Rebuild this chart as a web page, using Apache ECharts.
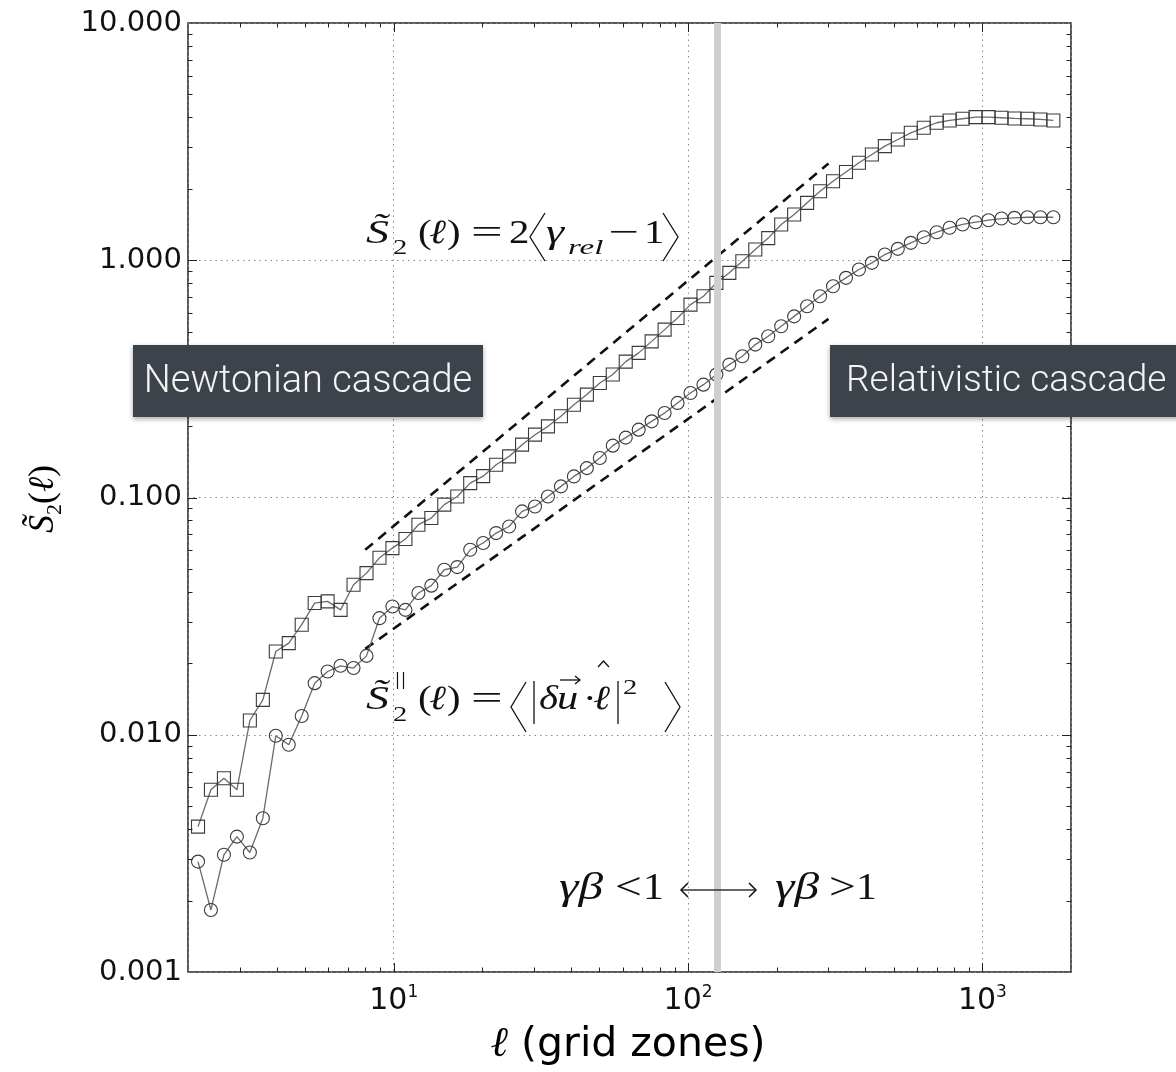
<!DOCTYPE html>
<html>
<head>
<meta charset="utf-8">
<script src="https://cdn.jsdelivr.net/npm/echarts@6/dist/echarts.min.js"></script>
<style>
html,body{margin:0;padding:0;background:#fff;}
#chart{width:1176px;height:1072px;}
</style>
</head>
<body>
<div id="chart"></div>
<script>
// ---- data ----
const lVals = [2.163,2.393,2.649,2.932,3.245,3.592,3.975,4.399,4.868,5.387,
  5.962,6.598,7.302,8.082,8.944,9.899,10.96,12.13,13.42,14.85,
  16.44,18.19,20.13,22.28,24.66,27.29,30.20,33.42,36.99,40.94,
  45.31,50.14,55.49,61.41,67.96,75.21,83.23,92.1,101.9,112.8,
  124.8,138.1,152.9,169.2,187.2,207.2,229.3,253.8,280.9,310.8,
  344.0,380.7,421.3,466.3,516.0,571.1,632.0,699.4,774.0,856.6,
  948.0,1049,1161,1285,1422,1574,1742];
const s2Total = [0.00410,0.00586,0.00656,0.00586,0.01148,0.01403,0.02244,0.02434,0.0291,0.0359,
  0.0365,0.0336,0.0429,0.0480,0.0557,0.0612,0.0668,0.0768,0.0819,0.0933,
  0.101,0.115,0.123,0.1375,0.149,0.167,0.184,0.1995,0.220,0.246,
  0.2715,0.304,0.330,0.374,0.407,0.455,0.510,0.571,0.650,0.705,
  0.803,0.885,0.990,1.11,1.24,1.415,1.558,1.746,1.954,2.154,
  2.355,2.576,2.792,3.026,3.228,3.445,3.617,3.798,3.884,3.948,
  4.010,4.010,3.987,3.960,3.948,3.922,3.884];
const s2Par = [0.00292,0.001826,0.00312,0.00372,0.00319,0.00445,0.00990,0.00907,0.0120,0.0165,
  0.01847,0.01953,0.0191,0.0215,0.0310,0.0347,0.0336,0.0396,0.0425,0.0496,
  0.0509,0.0602,0.0643,0.0708,0.0755,0.0874,0.0917,0.101,0.1114,0.1227,
  0.133,0.1468,0.1654,0.1788,0.1932,0.2094,0.2272,0.2504,0.2759,0.2990,
  0.3296,0.3633,0.3937,0.441,0.478,0.527,0.580,0.640,0.705,0.777,
  0.843,0.914,0.975,1.057,1.117,1.184,1.250,1.313,1.370,1.415,
  1.447,1.475,1.499,1.509,1.518,1.518,1.518];
const fitUpperX = [8, 300];
const fitUpperY = [0.0602, 2.557];
const fitLowerX = [8, 300];
const fitLowerY = [0.0230, 0.566];
const transitionL = 126;
const xMajorTicks = [10, 100, 1000];
const xMinorTicks = [3,4,5,6,7,8,9,20,30,40,50,60,70,80,90,200,300,400,500,600,700,800,900];
const yMajorTicks = [0.01, 0.1, 1];
const yMinorTicks = [0.002,0.003,0.004,0.005,0.006,0.007,0.008,0.009,
  0.02,0.03,0.04,0.05,0.06,0.07,0.08,0.09,
  0.2,0.3,0.4,0.5,0.6,0.7,0.8,0.9,
  2,3,4,5,6,7,8,9];

const chart = echarts.init(document.getElementById('chart'), null, {renderer:'canvas'});

const SERIF = "'Liberation Serif','DejaVu Serif',serif";
const SANS = "'DejaVu Sans',sans-serif";
const INK = '#111';

// text piece placed by its left edge and baseline
function T(txt, x, base, size, italic, sx) {
  return {type: 'text', x: x, y: base - 0.35 * size, scaleX: sx || 1, z: 50, silent: true,
    style: {text: txt, font: (italic ? 'italic ' : '') + size + 'px ' + SERIF, fill: INK,
      align: 'left', verticalAlign: 'middle'}};
}
function P(points, w) {
  return {type: 'polyline', z: 50, silent: true, shape: {points: points},
    style: {stroke: INK, lineWidth: w || 1.3, fill: null}};
}

function tickSeries(isX, majors, minors) {
  const data = majors.map(v => isX ? [v, 0.1, 9] : [10, v, 9])
    .concat(minors.map(v => isX ? [v, 0.1, 4.5] : [10, v, 4.5]));
  return {
    type: 'custom', silent: true, z: 6, clip: false,
    encode: {x: 0, y: 1},
    data: data,
    renderItem: function (params, api) {
      const cs = params.coordSys;
      const p = api.coord([api.value(0), api.value(1)]);
      const len = api.value(2);
      const st = {stroke: '#222', lineWidth: 1};
      if (isX) {
        const x = Math.round(p[0]) + 0.5;
        return {type: 'group', children: [
          {type: 'line', shape: {x1: x, y1: cs.y + cs.height, x2: x, y2: cs.y + cs.height - len}, style: st},
          {type: 'line', shape: {x1: x, y1: cs.y, x2: x, y2: cs.y + len}, style: st}
        ]};
      } else {
        const y = Math.round(p[1]) + 0.5;
        return {type: 'group', children: [
          {type: 'line', shape: {x1: cs.x, y1: y, x2: cs.x + len, y2: y}, style: st},
          {type: 'line', shape: {x1: cs.x + cs.width, y1: y, x2: cs.x + cs.width - len, y2: y}, style: st}
        ]};
      }
    }
  };
}

// formula 1: S2(l) = 2<gamma_rel - 1>
const formula1 = [
  T('S\u0303', 366, 246, 34, true, 1.35),
  T('2', 393, 256, 22, false, 1.3),
  T('(', 418, 246, 34, false, 1.2),
  T('\u2113', 429, 246, 34, true, 1.2),
  T(')', 447, 246, 34, false, 1.2),
  T('=', 471, 246, 34, false, 1.65),
  T('2', 509, 246, 34, false, 1.2),
  P([[545, 213], [530, 237], [545, 261]]),
  T('\u03B3', 546, 246, 34, true, 1.35),
  T('rel', 568, 256, 22, true, 1.5),
  T('\u2212', 608, 246, 34, false, 1.6),
  T('1', 644, 246, 34, false, 1.2),
  P([[663, 213], [678, 237], [663, 261]])
];
// formula 2: S2par(l) = <|du . l|^2>
const formula2 = [
  T('S\u0303', 366, 712, 34, true, 1.35),
  P([[397.5, 672], [397.5, 689]], 1.2), P([[403.5, 672], [403.5, 689]], 1.2),
  T('2', 393, 723, 22, false, 1.3),
  T('(', 418, 712, 34, false, 1.2),
  T('\u2113', 429, 712, 34, true, 1.2),
  T(')', 447, 712, 34, false, 1.2),
  T('=', 471, 712, 34, false, 1.65),
  P([[526, 682], [511, 707], [526, 732]]),
  P([[534, 681], [534, 724]]),
  T('\u03B4', 539, 712, 34, true, 1.2),
  T('u', 557, 712, 34, true, 1.25),
  P([[560, 680], [580, 680]]), P([[575, 676], [580, 680], [575, 684]]),
  T('\u00B7', 583, 712, 34, false, 1.2),
  T('\u2113', 593, 712, 34, true, 1.2),
  P([[598, 667], [603.5, 661], [609, 667]]),
  P([[618, 681], [618, 724]]),
  T('2', 623, 696, 22, false, 1.3),
  P([[665, 682], [680, 707], [665, 732]])
];
// gamma-beta annotation
const gammaBeta = [
  T('\u03B3\u03B2', 559, 902, 38, true, 1.3),
  T('<', 615, 902, 38, false, 1.25),
  T('1', 643, 902, 38, false, 1.1),
  T('\u03B3\u03B2', 775, 902, 38, true, 1.3),
  T('>', 829, 902, 38, false, 1.25),
  T('1', 856, 902, 38, false, 1.1),
  {type: 'line', z: 50, silent: true, shape: {x1: 681, y1: 890, x2: 756, y2: 890}, style: {stroke: '#333', lineWidth: 1.5}},
  P([[688, 883], [681, 890], [688, 897]], 1.5),
  P([[749, 883], [756, 890], [749, 897]], 1.5)
];

const option = {
  backgroundColor: '#fff',
  animation: false,
  grid: {left: 188, right: 105, top: 23, bottom: 100, show: true, borderColor: '#222', borderWidth: 1.5, backgroundColor: 'transparent'},
  xAxis: {
    type: 'log', logBase: 10, min: 2, max: 2000, splitNumber: 3,
    axisLine: {show: false},
    axisTick: {show: false},
    splitLine: {show: true, lineStyle: {color: '#8a8a8a', type: [1.5, 4], width: 1}},
    axisLabel: {
      showMinLabel: false, showMaxLabel: false, margin: 12,
      formatter: function (v) { return '{n|10}{s|' + Math.round(Math.log10(v)) + '}'; },
      rich: {
        n: {fontFamily: SANS, fontSize: 30, lineHeight: 34, color: INK},
        s: {fontFamily: SANS, fontSize: 17, lineHeight: 18, verticalAlign: 'top', color: INK}
      }
    }
  },
  yAxis: {
    type: 'log', logBase: 10, min: 0.001, max: 10, splitNumber: 4,
    axisLine: {show: false},
    axisTick: {show: false},
    splitLine: {show: true, lineStyle: {color: '#8a8a8a', type: [1.5, 4], width: 1}},
    axisLabel: {
      margin: 6, fontFamily: SANS, fontSize: 29, color: INK,
      formatter: function (v) { return Number(v).toFixed(3); }
    }
  },
  series: [
    {
      type: 'line', data: [], z: 1, silent: true,
      markLine: {
        silent: true, symbol: ['none', 'none'], label: {show: false},
        lineStyle: {color: '#cfcfcf', width: 7, type: 'solid'},
        data: [{xAxis: transitionL}]
      }
    },
    {
      type: 'line', name: 'fitUpper', z: 2, silent: true, symbol: 'none',
      data: fitUpperX.map((x, i) => [x, fitUpperY[i]]),
      lineStyle: {color: INK, width: 2.6, type: [10, 7]}
    },
    {
      type: 'line', name: 'fitLower', z: 2, silent: true, symbol: 'none',
      data: fitLowerX.map((x, i) => [x, fitLowerY[i]]),
      lineStyle: {color: INK, width: 2.6, type: [10, 7]}
    },
    {
      type: 'line', name: 'S2', z: 3, silent: true,
      symbol: 'rect', symbolSize: 13,
      data: lVals.map((x, i) => [x, s2Total[i]]),
      lineStyle: {color: '#6a6a6a', width: 1.3},
      itemStyle: {color: 'rgba(255,255,255,0)', borderColor: '#3a3a3a', borderWidth: 1.1}
    },
    {
      type: 'line', name: 'S2par', z: 3, silent: true,
      symbol: 'circle', symbolSize: 13,
      data: lVals.map((x, i) => [x, s2Par[i]]),
      lineStyle: {color: '#6a6a6a', width: 1.3},
      itemStyle: {color: 'rgba(255,255,255,0)', borderColor: '#3a3a3a', borderWidth: 1.1}
    },
    tickSeries(true, xMajorTicks, xMinorTicks),
    tickSeries(false, yMajorTicks, yMinorTicks)
  ],
  graphic: [].concat(formula1, formula2, gammaBeta, [
    // cascade boxes
    {type: 'rect', z: 60, shape: {x: 133, y: 345, width: 350, height: 72},
      style: {fill: '#3d434b', shadowBlur: 5, shadowColor: 'rgba(0,0,0,0.35)', shadowOffsetY: 2}},
    {type: 'text', z: 61, x: 308, y: 382,
      style: {text: 'Newtonian cascade', font: "300 38px Roboto, 'Open Sans', sans-serif", fill: '#f4f4f4', align: 'center', verticalAlign: 'middle'}},
    {type: 'rect', z: 60, shape: {x: 830, y: 345, width: 360, height: 72},
      style: {fill: '#3d434b', shadowBlur: 5, shadowColor: 'rgba(0,0,0,0.35)', shadowOffsetY: 2}},
    {type: 'text', z: 61, x: 846, y: 382,
      style: {text: 'Relativistic cascade', font: "300 37px Roboto, 'Open Sans', sans-serif", fill: '#f4f4f4', align: 'left', verticalAlign: 'middle'}},
    // axis names
    {type: 'text', z: 50, x: 628, y: 1045,
      style: {text: '{it|\u2113}{n| (grid zones)}', align: 'center', verticalAlign: 'middle', rich: {
        it: {fontFamily: SERIF, fontStyle: 'italic', fontSize: 42, color: INK},
        n: {fontFamily: SANS, fontSize: 41, color: INK}}}},
    {type: 'text', z: 50, x: 44, y: 499, rotation: Math.PI / 2,
      style: {text: '{it|S\u0303}{sub|2}{rm|(}{it|\u2113}{rm|)}', align: 'center', verticalAlign: 'middle', rich: {
        it: {fontFamily: SERIF, fontStyle: 'italic', fontSize: 36, lineHeight: 44, color: INK},
        rm: {fontFamily: SERIF, fontSize: 36, lineHeight: 44, color: INK},
        sub: {fontFamily: SERIF, fontSize: 22, lineHeight: 22, verticalAlign: 'bottom', color: INK}}}}
  ])
};
chart.setOption(option);
</script>
</body>
</html>
